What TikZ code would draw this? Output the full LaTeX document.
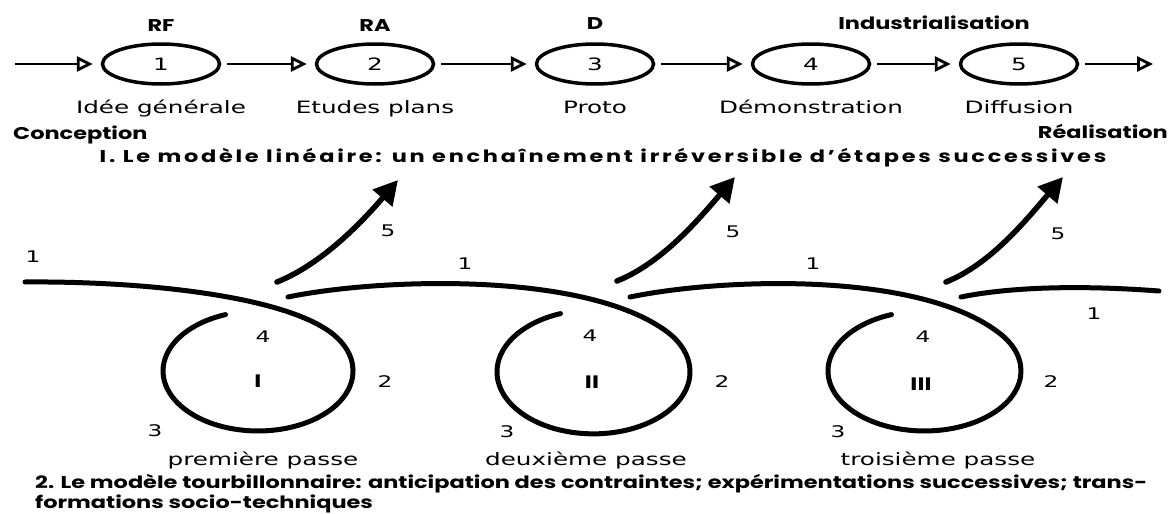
\documentclass[tikz,border=0pt]{standalone}
\usepackage{fontspec}
\usetikzlibrary{arrows.meta, shapes.geometric, positioning}
\newfontfamily\plainfont{DejaVu Sans}[FakeStretch=1.45]
\newfontfamily\headfont{Poppins}[FakeStretch=1.32]

\begin{document}
\begin{tikzpicture}[x=1pt, y=-1pt,
  stage/.style={ellipse, draw, line width=3.5pt, minimum width=117pt, minimum height=40pt, inner sep=0pt, font=\plainfont\fontsize{17}{20}\selectfont},
  link/.style={line width=2.8pt, -{Triangle[open, length=16pt, width=15pt]}, shorten <=6pt, shorten >=8pt},
  phase/.style={font=\headfont\bfseries\fontsize{17}{20}\selectfont, inner sep=0pt, text height=12pt, text depth=0pt},
  stagetext/.style={font=\plainfont\fontsize{17}{20}\selectfont, inner sep=0pt, text height=12.4pt, text depth=0pt},
  num/.style={font=\plainfont\fontsize{16}{19}\selectfont, inner sep=0pt, text height=11.7pt, text depth=0pt},
  roman/.style={font=\headfont\bfseries\fontsize{18}{20}\selectfont, inner sep=0pt},
  swirl/.style={line width=5pt, line cap=round},
  rise/.style={line width=5.5pt, line cap=round, -{Triangle[length=24pt, width=25pt]}}]

\useasboundingbox (0,0) rectangle (1171,514);

% 1. linear model
\coordinate (in) at (15,64);
\node[stage] (e1) at (161,64) {1};
\node[stage] (e2) at (375,64) {2};
\node[stage] (e3) at (595,64) {3};
\node[stage] (e4) at (811,64) {4};
\node[stage] (e5) at (1019,64) {5};
\coordinate (out) at (1153,64);

\draw[link, shorten <=0pt] (in) -- (e1);
\draw[link] (e1) -- (e2);
\draw[link] (e2) -- (e3);
\draw[link] (e3) -- (e4);
\draw[link] (e4) -- (e5);
\draw[link, shorten >=0pt] (e5) -- (out);

\node[phase, above=11pt of e1] (rf) {RF};
\node[phase, above=11pt of e2] (ra) {RA};
\node[phase, above=13pt of e3] (d) {D};
\node[phase] (indus) at (934,23) {Industrialisation};

\node[stagetext, below=15pt of e1] (idee) {Idée générale};
\node[stagetext, below=15pt of e2] (etudes) {Etudes plans};
\node[stagetext, below=15pt of e3] (proto) {Proto};
\node[stagetext, below=15pt of e4] (demo) {Démonstration};
\node[stagetext, below=15pt of e5] (diff) {Diffusion};

\node[phase, anchor=west] (conc) at (13,133) {Conception};
\node[phase, anchor=east] (real) at (1168,132) {Réalisation};
\node[phase] (title1) at (603,156) {\addfontfeature{LetterSpace=16}I. Le modèle linéaire: un enchaînement irréversible d’étapes successives};

% 2. whirlwind model
\draw[swirl] (25,282) .. controls (140,281) and (280,295) .. (330.8,332.4)
  arc[start angle=-40, end angle=250, x radius=95, y radius=60];
\draw[swirl] (288,297) .. controls (380,278) and (586,271) .. (667.4,332)
  arc[start angle=-40, end angle=250, x radius=96.5, y radius=62];
\draw[swirl] (630,297) .. controls (722,278) and (918,271) .. (998.4,332.4)
  arc[start angle=-40, end angle=250, x radius=96.5, y radius=60];
\draw[swirl] (961,297) .. controls (1010,287) and (1080,285) .. (1159,291);

\draw[rise] (277,282) .. controls +(45,-18) and +(-36,42) .. +(121,-102);
\draw[rise] (617,281) .. controls +(45,-18) and +(-36,42) .. +(118,-104);
\draw[rise] (946,282) .. controls +(45,-18) and +(-36,42) .. +(117,-105);

% pass I
\node[num] (p1one) at (33,257) {1};
\node[num] (p1five) at (388,231) {5};
\node[num] (p1four) at (263,337) {4};
\node[num] (p1two) at (385,382) {2};
\node[num] (p1three) at (155,431) {3};
\node[roman] (p1) at (258,381) {I};
\node[stagetext] (pass1) at (263,459) {première passe};
% pass II
\node[num] (p2one) at (465,264) {1};
\node[num] (p2five) at (733,232) {5};
\node[num] (p2four) at (590,336) {4};
\node[num] (p2two) at (722,382) {2};
\node[num] (p2three) at (507,432) {3};
\node[roman] (p2) at (592,382) {II};
\node[stagetext] (pass2) at (586,459) {deuxième passe};
% pass III
\node[num] (p3one) at (813,264) {1};
\node[num] (p3five) at (1058,234) {5};
\node[num] (p3four) at (923,337) {4};
\node[num] (p3two) at (1051,382) {2};
\node[num] (p3three) at (838,432) {3};
\node[roman] (p3) at (921,384) {III};
\node[stagetext] (pass3) at (938,459) {troisième passe};
\node[num] (p4one) at (1094,314) {1};

\node[phase, anchor=west] (title2a) at (35,482) {2. Le modèle tourbillonnaire: anticipation des contraintes; expérimentations successives; trans-};
\node[phase, anchor=west] (title2b) at (35,502) {formations socio-techniques};

\end{tikzpicture}
\end{document}
